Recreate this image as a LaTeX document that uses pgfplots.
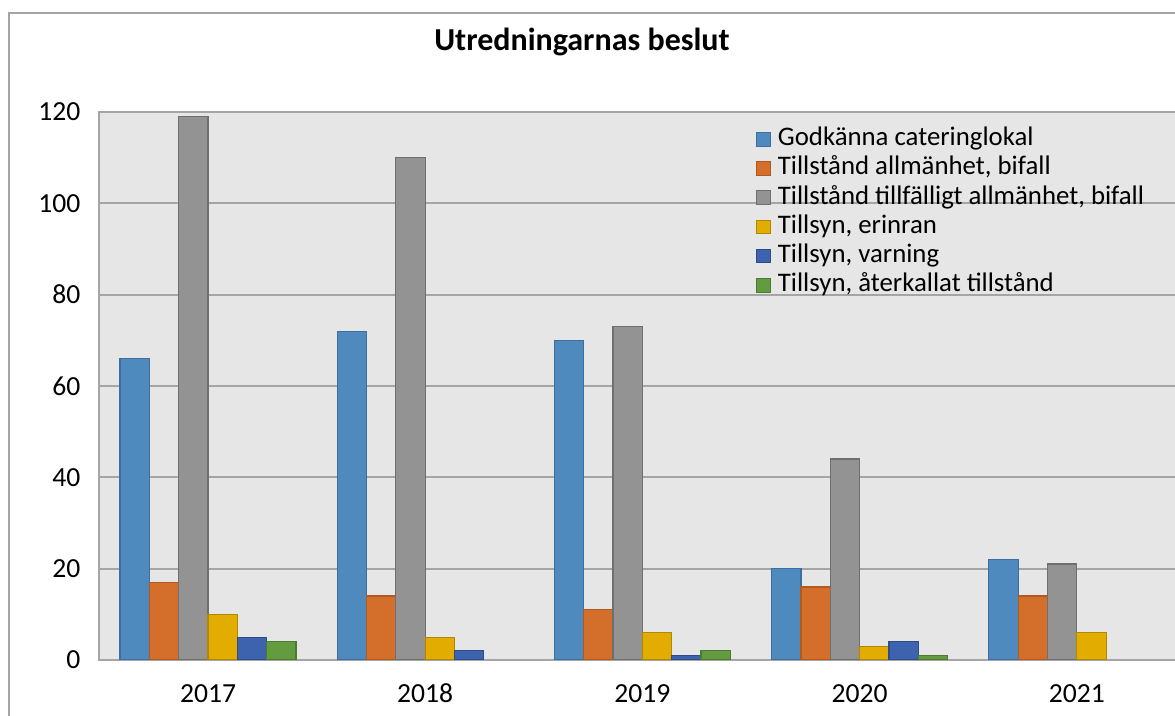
\documentclass[border=0pt]{standalone}
\usepackage{pgfplots}
\pgfplotsset{compat=1.18}
\usepackage{fontspec}
\setmainfont{Carlito}
\definecolor{cBlue}{RGB}{79,138,190}\definecolor{eBlue}{RGB}{61,110,158}
\definecolor{cOrange}{RGB}{212,110,43}\definecolor{eOrange}{RGB}{176,90,34}
\definecolor{cGray}{RGB}{147,147,147}\definecolor{eGray}{RGB}{111,111,111}
\definecolor{cYellow}{RGB}{226,172,0}\definecolor{eYellow}{RGB}{176,136,0}
\definecolor{cDBlue}{RGB}{61,99,174}\definecolor{eDBlue}{RGB}{46,76,136}
\definecolor{cGreen}{RGB}{98,156,62}\definecolor{eGreen}{RGB}{76,122,48}
\definecolor{bgGray}{RGB}{230,230,230}
\definecolor{gridGray}{RGB}{165,165,165}
\begin{document}
\begin{tikzpicture}
\path[use as bounding box] (-49.7pt,-28pt) rectangle (537.8pt,330pt);
\draw[draw=gridGray, line width=0.6pt] (-45.2pt,-60pt) rectangle (600pt,323.5pt);
\node[font=\fontsize{16}{19}\selectfont\bfseries] at (241.3pt,309pt) {Utredningarnas beslut};
\begin{axis}[
  scale only axis,
  width=543pt, height=274pt,
  ybar,
  bar width=0.135,
  xmin=-0.5, xmax=4.5,
  ymin=0, ymax=120,
  ytick={0,20,...,120},
  xtick={0,1,2,3,4},
  xticklabels={2017,2018,2019,2020,2021},
  /pgf/number format/assume math mode=true,
  tick style={draw=none},
  ymajorgrids,
  grid style={draw=gridGray, line width=0.9pt},
  axis line style={draw=gridGray, line width=0.9pt},
  axis background/.style={fill=bgGray},
  tick label style={font=\fontsize{13.8}{16}\selectfont},
  yticklabel style={xshift=-6pt},
  xticklabel style={anchor=north, text height=9.5pt, text depth=0pt, yshift=-4pt},
  legend style={at={(0.599,0.985)}, anchor=north west, draw=none, fill=none,
    font=\fontsize{13.4}{16}\selectfont,
    nodes={text height=9.5pt, text depth=3pt, inner ysep=1.05pt, inner xsep=3.5pt, anchor=west},
    legend cell align=left},
  legend image code/.code={\draw[#1, line width=0.5pt] (0pt,-3.4pt) rectangle (6.8pt,3.4pt);},
]
\addplot[fill=cBlue, draw=eBlue, line width=0.6pt, bar shift=-0.3375] coordinates {(0,66) (1,72) (2,70) (3,20) (4,22)};
\addplot[fill=cOrange, draw=eOrange, line width=0.6pt, bar shift=-0.2025] coordinates {(0,17) (1,14) (2,11) (3,16) (4,14)};
\addplot[fill=cGray, draw=eGray, line width=0.6pt, bar shift=-0.0675] coordinates {(0,119) (1,110) (2,73) (3,44) (4,21)};
\addplot[fill=cYellow, draw=eYellow, line width=0.6pt, bar shift=0.0675] coordinates {(0,10) (1,5) (2,6) (3,3) (4,6)};
\addplot[fill=cDBlue, draw=eDBlue, line width=0.6pt, bar shift=0.2025] coordinates {(0,5) (1,2) (2,1) (3,4)};
\addplot[fill=cGreen, draw=eGreen, line width=0.6pt, bar shift=0.3375] coordinates {(0,4) (2,2) (3,1)};
\legend{{Godkänna cateringlokal}, {Tillstånd allmänhet, bifall}, {Tillstånd tillfälligt allmänhet, bifall}, {Tillsyn, erinran}, {Tillsyn, varning}, {Tillsyn, återkallat tillstånd}}
\end{axis}
\end{tikzpicture}
\end{document}
